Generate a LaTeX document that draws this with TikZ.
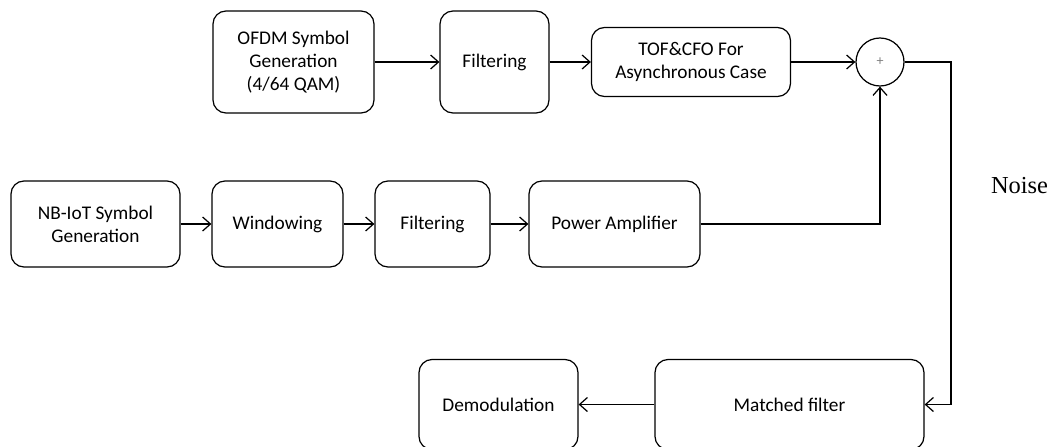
\documentclass[tikz,border=0pt]{standalone}
\usepackage{fontspec}
\setmainfont{Carlito}
\newfontfamily\noisefont{Liberation Serif}
\usetikzlibrary{positioning,arrows.meta}

\begin{document}
\begin{tikzpicture}[>={Straight Barb[length=4.5pt,width=8pt]}, line width=0.7pt,
    block/.style={rectangle, draw, rounded corners=0.26cm, align=center, minimum height=2.04cm, font=\fontsize{11}{13}\selectfont}]
\useasboundingbox (0,0) rectangle (21.02,-8.92);

% Upper branch
\node (ofdm) [block, minimum width=3.22cm] at (5.87,-1.24) {OFDM Symbol\\Generation\\(4/64 QAM)};
\node (filterA) [block, minimum width=2.18cm] at (9.89,-1.24) {Filtering};
\node (tofcfo) [block, minimum width=3.98cm, minimum height=1.38cm] at (13.82,-1.24) {TOF\&CFO For\\Asynchronous Case};
\node (adder) [circle, draw, minimum size=0.96cm, inner sep=0pt, font=\footnotesize, text=gray] at (17.6,-1.24) {+};

% Lower branch
\node (nbiot) [block, minimum width=3.38cm, minimum height=1.72cm] at (1.91,-4.48) {NB-IoT Symbol\\Generation};
\node (windowing) [block, minimum width=2.62cm, minimum height=1.72cm] at (5.55,-4.48) {Windowing};
\node (filterB) [block, minimum width=2.30cm, minimum height=1.72cm] at (8.65,-4.48) {Filtering};
\node (amplifier) [block, minimum width=3.42cm, minimum height=1.72cm] at (12.29,-4.48) {Power Amplifier};

% Receiver (lower edges run past the page)
\node (matched) [block, minimum width=5.38cm, minimum height=1.8cm] at (15.79,-8.09) {Matched filter};
\node (demod) [block, minimum width=3.18cm, minimum height=1.8cm] at (9.97,-8.09) {Demodulation};

\node (noise) [font=\noisefont\fontsize{13.9}{16}\selectfont] at (20.39,-3.72) {Noise};
\coordinate (turn) at (19.02,-1.24);

% Edges
\draw [->] (ofdm) -- (filterA);
\draw [->] (filterA) -- (tofcfo);
\draw [->] (tofcfo) -- (adder);
\draw [->] (nbiot) -- (windowing);
\draw [->] (windowing) -- (filterB);
\draw [->] (filterB) -- (amplifier);
\draw [->] (amplifier) -| (adder);
\draw [->] (adder) -- (turn) |- (matched);
\draw [->] (matched) -- (demod);
\end{tikzpicture}
\end{document}
